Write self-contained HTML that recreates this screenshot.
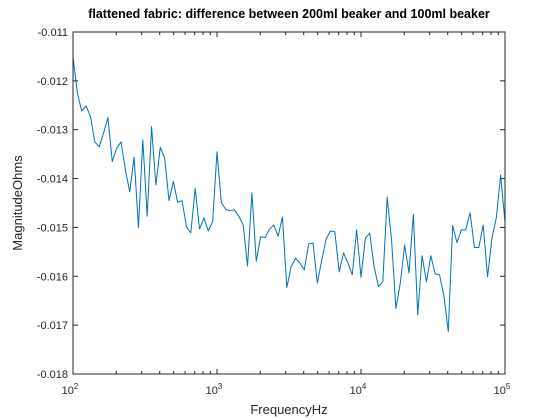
<!DOCTYPE html>
<html><head><meta charset="utf-8"><style>
body{margin:0;background:#fff;}
svg{display:block;font-family:"Liberation Sans",sans-serif;}
</style></head><body>
<svg id="chart" width="560" height="420" viewBox="0 0 560 420" xmlns="http://www.w3.org/2000/svg">
<rect x="0" y="0" width="560" height="420" fill="#fff"/>
<rect x="73" y="32" width="432" height="342" fill="#fff"/>
<g id="grid"></g>
<text x="289" y="18" text-anchor="middle" font-size="12.5" font-weight="bold" fill="#000">flattened fabric: difference between 200ml beaker and 100ml beaker</text>
<text x="289" y="414" text-anchor="middle" font-size="13" fill="#262626">FrequencyHz</text>
<text transform="translate(22,203) rotate(-90)" text-anchor="middle" font-size="13" fill="#262626">MagnitudeOhms</text>
</svg>
<script>
const yTicks = [-0.011,-0.012,-0.013,-0.014,-0.015,-0.016,-0.017,-0.018];
const yTickLabels = ["-0.011","-0.012","-0.013","-0.014","-0.015","-0.016","-0.017","-0.018"];
const xDecades = [2,3,4,5];
const magnitude = [-0.01151,-0.01225,-0.01262,-0.01251,-0.01273,-0.01325,-0.01335,-0.01307,-0.01275,-0.01365,
-0.01338,-0.01325,-0.01382,-0.01427,-0.01356,-0.01500,-0.01321,-0.01477,-0.01294,-0.01413,
-0.01336,-0.01358,-0.01445,-0.01406,-0.01449,-0.01445,-0.01499,-0.01511,-0.01420,-0.01503,
-0.01480,-0.01507,-0.01488,-0.01345,-0.01449,-0.01463,-0.01466,-0.01464,-0.01477,-0.01495,
-0.01579,-0.01429,-0.01569,-0.01519,-0.01521,-0.01504,-0.01495,-0.01518,-0.01479,-0.01623,
-0.01580,-0.01563,-0.01573,-0.01587,-0.01534,-0.01532,-0.01614,-0.01567,-0.01524,-0.01507,
-0.01509,-0.01591,-0.01552,-0.01573,-0.01597,-0.01505,-0.01602,-0.01522,-0.01512,-0.01580,
-0.01621,-0.01611,-0.01438,-0.01526,-0.01666,-0.01614,-0.01536,-0.01593,-0.01473,-0.01679,
-0.01558,-0.01611,-0.01558,-0.01595,-0.01597,-0.01640,-0.01713,-0.01496,-0.01531,-0.01505,
-0.01505,-0.01470,-0.01541,-0.01541,-0.01495,-0.01601,-0.01522,-0.01481,-0.01393,-0.01489];
const freqStartExp = 2, freqEndExp = 5;

const NS="http://www.w3.org/2000/svg";
const L=73,R=505,T=32,B=374;
const yMin=-0.018,yMax=-0.011;
function xScale(f){return L+(Math.log10(f)-freqStartExp)/(freqEndExp-freqStartExp)*(R-L);}
function yScale(v){return T+(yMax-v)/(yMax-yMin)*(B-T);}
const svg=document.getElementById('chart');
const g=document.getElementById('grid');
function mk(tag,attrs,parent){const e=document.createElementNS(NS,tag);for(const k in attrs)e.setAttribute(k,attrs[k]);(parent||svg).appendChild(e);return e;}

// y ticks
yTicks.forEach((v,i)=>{
  const y=yScale(v);
  const t1=mk('line',{x1:L,x2:L+5,y1:y,y2:y,stroke:'#262626','stroke-width':1});
  
  
  const t2=mk('line',{x1:R,x2:R-5,y1:y,y2:y,stroke:'#262626','stroke-width':1});
  
  
  const tx=mk('text',{x:L-5,y:y+4,'text-anchor':'end','font-size':11,fill:'#262626'});
  tx.textContent=yTickLabels[i];
  
  
});
// x ticks
xDecades.forEach((d,i)=>{
  const x=xScale(Math.pow(10,d));
  const a=mk('line',{x1:x,x2:x,y1:B,y2:B-5,stroke:'#262626','stroke-width':1});
  
  
  const b=mk('line',{x1:x,x2:x,y1:T,y2:T+5,stroke:'#262626','stroke-width':1});
  
  
  const tx=mk('text',{x:x-3,y:B+20,'text-anchor':'middle','font-size':11,fill:'#262626'});
  
  
  tx.appendChild(document.createTextNode('10'));
  const sp=document.createElementNS(NS,'tspan');
  sp.setAttribute('dy','-5');sp.setAttribute('font-size','8');
  sp.textContent=String(d);
  tx.appendChild(sp);
  if(i<xDecades.length-1){
    for(let m=2;m<=9;m++){
      const xm=xScale(m*Math.pow(10,d));
      const c=mk('line',{x1:xm,x2:xm,y1:B,y2:B-3,stroke:'#262626','stroke-width':1});
      
      
      const e=mk('line',{x1:xm,x2:xm,y1:T,y2:T+3,stroke:'#262626','stroke-width':1});
      
      
    }
  }
});
// line
const n=magnitude.length;
const pts=magnitude.map((v,i)=>{
  const f=Math.pow(10,freqStartExp+(freqEndExp-freqStartExp)*i/(n-1));
  return xScale(f).toFixed(2)+','+yScale(v).toFixed(2);
}).join(' ');
const line=mk('polyline',{points:pts,fill:'none',stroke:'#0072BD','stroke-width':1,'stroke-linejoin':'round'});


// box
const box=mk('rect',{x:L,y:T,width:R-L,height:B-T,fill:'none',stroke:'#262626','stroke-width':1});


</script>
</body></html>
